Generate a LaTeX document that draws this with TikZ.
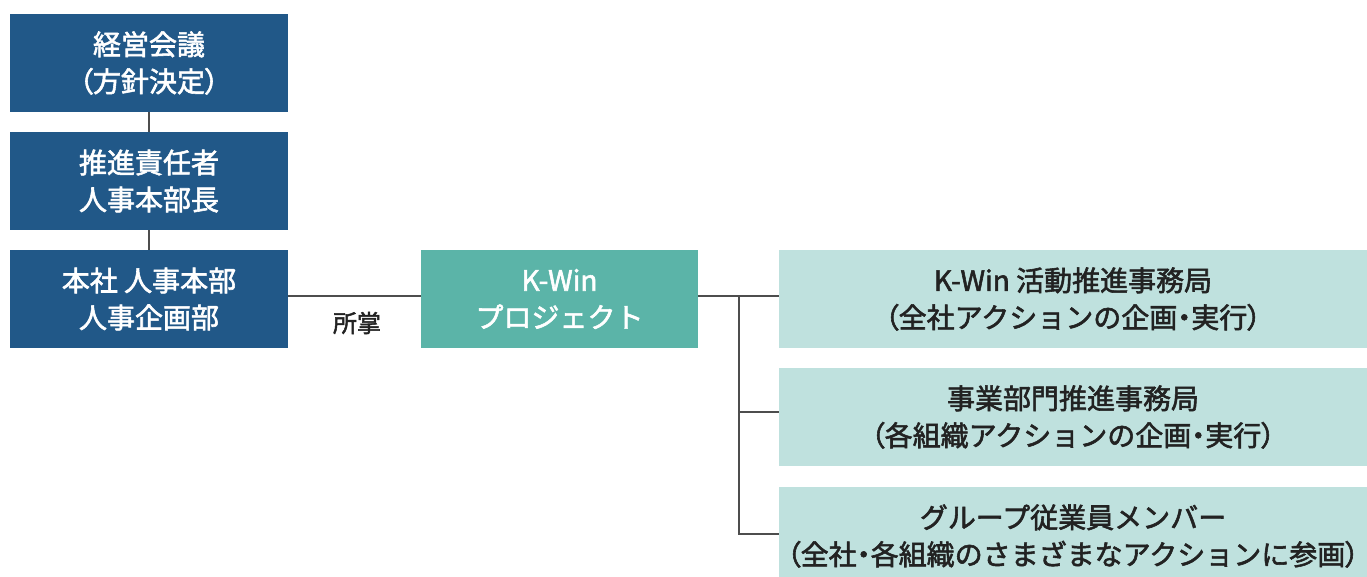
\documentclass[tikz,border=0pt]{standalone}
\usepackage{fontspec}
\setmainfont{Noto Sans CJK JP}[FakeBold=2]
\newcommand{\pltx}[1]{{\addfontfeature{RawFeature=+palt}#1}}
\definecolor{navy}{HTML}{215888}
\definecolor{teal}{HTML}{5BB4A8}
\definecolor{lteal}{HTML}{BFE1DE}
\definecolor{linec}{HTML}{4D4D4D}
\definecolor{txt}{HTML}{222222}
\begin{document}
\begin{tikzpicture}[x=1pt,y=-1pt,
  box/.style={anchor=north west,inner sep=0pt,outer sep=0pt,align=center,font=\fontsize{28}{37}\selectfont},
  navybox/.style={box,fill=navy,text=white,minimum width=278pt,minimum height=98pt},
  tealbox/.style={box,fill=teal,text=white,minimum width=277pt,minimum height=98pt},
  lbox/.style={box,fill=lteal,text=txt,minimum width=588pt,minimum height=98pt},
  conn/.style={draw=linec,line width=1.8pt}]
\useasboundingbox (0,0) rectangle (1367,576);
\clip (0,0) rectangle (1367,576);
\node[navybox] (a) at (10,14) {経営会議\\\pltx{（}方針決定\pltx{）}};
\node[navybox] (b) at (10,132) {推進責任者\\人事本部長};
\node[navybox] (c) at (10,250) {本社 人事本部\\人事企画部};
\node[tealbox] (k) at (421,250) {K-Win\\プロジェクト};
\node[lbox] (r1) at (779,250) {K-Win 活動推進事務局\\\pltx{（}全社アクションの企画\pltx{・}実行\pltx{）}};
\node[lbox] (r2) at (779,368) {事業部門推進事務局\\\pltx{（}各組織アクションの企画\pltx{・}実行\pltx{）}};
\node[lbox] (r3) at (779,487) {グループ従業員メンバー\\\pltx{（}全社\pltx{・}各組織のさまざまなアクションに参画\pltx{）}};
\node[font=\fontsize{24}{28}\selectfont,text=txt] (lab) at (357,323) {所掌};
\coordinate (h) at (350,296);
\coordinate (j1) at (739,296);
\coordinate (j2) at (739,412);
\coordinate (j3) at (739,534);
\draw[conn] (a.south) -- (b.north);
\draw[conn] (b.south) -- (c.north);
\draw[conn] (c.east |- h) -- (k.west |- h);
\draw[conn] (k.east |- j1) -- (r1.west |- j1);
\draw[conn] (j1) -- (j3) -- (r3.west |- j3);
\draw[conn] (j2) -- (r2.west |- j2);
\end{tikzpicture}
\end{document}
